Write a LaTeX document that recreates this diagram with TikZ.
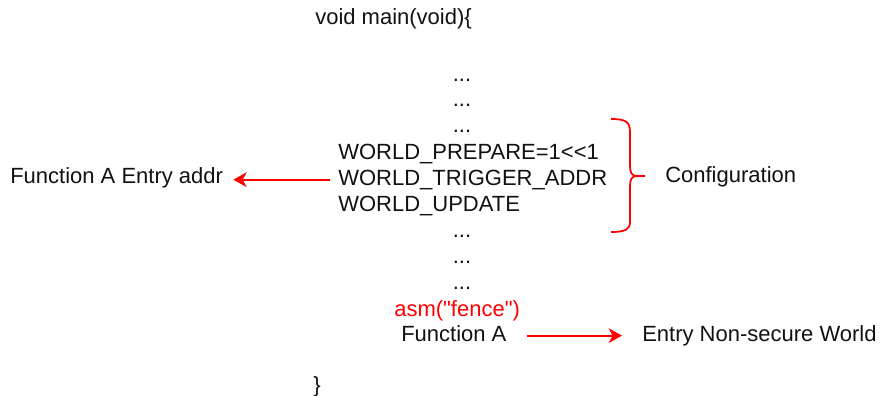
\documentclass[tikz,border=0pt]{standalone}
\usepackage{fontspec}
\setmainfont{Liberation Sans}[Ligatures=TeXOff]
\usetikzlibrary{arrows.meta}
\definecolor{cred}{HTML}{FF0000}
\definecolor{cbk}{HTML}{111111}

\begin{document}
\begin{tikzpicture}[x=0.75pt, y=-0.75pt,
    txt/.style={inner sep=0pt, anchor=base west, text height=0.9em, text depth=0.1em,
        font=\fontsize{16.5}{20}\selectfont, text=cbk},
    link/.style={cred, line width=1.5pt, -{Stealth[length=10pt, width=11pt, inset=3pt]}}]
    \useasboundingbox (0,0) rectangle (883,396);
    \node[txt] (main) at (315,25) {void main(void)\{};
    \foreach \y [count=\i] in {81,106,132} \node[txt, anchor=base] (dota\i) at (462,\y) {...};
    \node[txt] (prep) at (338,159) {WORLD\_PREPARE=1<{}<1};
    \node[txt] (trig) at (338,185) {WORLD\_TRIGGER\_ADDR};
    \node[txt] (upd) at (338,211) {WORLD\_UPDATE};
    \foreach \y [count=\i] in {237,263,289} \node[txt, anchor=base] (dotb\i) at (462,\y) {...};
    \node[txt, text=cred] (fence) at (394,316) {asm("fence")};
    \node[txt] (funca) at (401,341) {Function A};
    \node[txt] (nsw) at (642,341) {Entry Non-secure World};
    \node[txt] (addr) at (10,183) {Function A Entry addr};
    \node[txt] (conf) at (665,182) {Configuration};
    \node[txt, anchor=base] (close) at (317,392) {\}};
    % brace round the three config lines
    \draw[cred, line width=1.3pt, line join=round]
        (611,119) .. controls (626,119) and (630,122) .. (630,132) -- (630,166)
        .. controls (630,173) and (632,176) .. (637,176) -- (645,176)
        (637,176) .. controls (632,176) and (630,179) .. (630,186) -- (630,222)
        .. controls (630,229) and (626,232) .. (611,232);
    \draw[link, shorten <=6pt, shorten >=7.5pt] (trig.west) -- (addr.east |- trig.west);
    \draw[link, shorten <=15pt, shorten >=15pt] (funca.east) -- (nsw.west);
\end{tikzpicture}
\end{document}
